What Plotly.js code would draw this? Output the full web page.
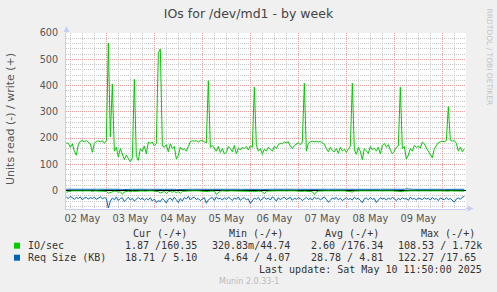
<!DOCTYPE html>
<html><head><meta charset="utf-8">
<script src="https://cdn.plot.ly/plotly-3.0.1.min.js"></script>
<style>html,body{margin:0;padding:0;background:#f0f0f0;} #chart{width:497px;height:292px;}</style>
</head><body><div id="chart"></div>
<script>
// ---- data (hourly samples starting 2025-05-02 04:00) ----
const startTime = Date.UTC(2025, 4, 2, 4, 0, 0);
const stepMs = 3600 * 1000;

const ioWrite = [
 182,180,165,178,150,135,175,188,190,186,190,184,178,146,180,187,189,186,190,180,
 190,562,205,406,150,165,128,160,140,118,135,120,110,125,424,130,115,160,150,170,
 140,185,180,185,170,180,525,539,170,165,175,148,178,160,168,120,135,165,155,160,
 150,168,186,190,188,190,185,190,190,186,182,418,165,172,160,150,168,145,160,140,
 145,168,160,148,172,140,162,155,165,160,168,155,170,165,394,175,150,160,138,158,
 150,165,158,150,168,160,175,180,178,185,182,186,170,160,172,178,182,175,185,409,
 150,180,186,188,186,188,185,188,182,176,160,148,165,152,148,160,142,165,150,158,
 145,160,170,409,155,138,165,150,118,160,150,142,168,155,162,150,165,140,172,180,
 165,175,155,140,150,165,170,394,160,168,120,135,160,150,172,165,168,162,185,178,
 162,150,140,125,160,170,182,186,188,186,190,320,192,188,190,180,150,165,148,160
];
const ioRead = [
 -6,-3,-2,-1,-2,-1,-1,-2,-1,-1,-2,-1,-1,-3,-1,-1,-2,-1,-1,-2,
 -3,-10,-8,-4,-2,-3,-6,-4,-14,-5,-3,-2,-4,-2,-3,-2,-1,-2,-1,-2,
 -1,-2,-1,-1,-2,-3,-4,-9,-5,-3,-11,-4,-3,-6,-3,-8,-4,-10,-3,-2,
 -1,-2,-1,-1,-2,-1,-1,-2,-1,-2,-3,-4,-2,-3,-2,-14,-6,-2,-1,-2,
 -1,-2,-1,-1,-2,-1,-2,-1,-1,-2,-1,-1,-2,-3,-4,-2,-2,-3,-4,-12,
 -3,-2,-1,-2,-1,-1,-2,-1,-1,-2,-1,-1,-2,-1,-1,-2,-1,-2,-3,-2,
 -2,-3,-2,-4,-15,-5,-2,-1,-2,-1,-1,-2,-1,-1,-2,-1,-1,-2,-1,-1,
 -2,-1,-3,-5,-2,-1,-2,-1,-1,-2,-1,-1,-2,-1,-1,-2,-1,-1,-2,-1,
 -1,-2,-1,-1,-2,-1,-3,-5,-4,-2,-1,-2,-1,-1,-2,-1,-1,-2,-1,-1,
 -2,-1,-1,-2,-1,-1,-2,-1,-1,-2,-3,-2,-1,-1,-2,-1,-1,-2,-1,-2
];
const reqWrite = [
 5.2,5.0,4.9,5.1,5.3,5.0,4.8,5.1,5.2,5.0,4.9,5.1,5.0,5.2,4.9,5.0,5.1,5.3,5.0,4.9,
 5.0,3.2,4.1,4.6,5.0,4.8,4.5,5.0,3.8,4.7,5.1,5.0,4.9,5.2,4.8,5.0,5.1,4.9,5.0,5.2,
 5.1,4.9,5.0,5.2,4.8,4.6,4.2,3.5,4.4,4.9,4.1,4.8,5.0,4.6,5.0,4.3,4.8,4.4,5.0,5.1,
 5.0,5.2,4.9,5.0,5.1,5.3,5.0,4.9,5.1,5.0,4.8,4.2,4.9,5.0,4.8,3.9,4.7,5.0,5.1,4.9,
 5.0,5.2,4.9,5.1,5.0,4.8,5.1,5.0,4.9,5.2,5.0,5.1,4.9,4.7,4.3,4.9,5.0,4.8,4.6,4.0,
 4.9,5.1,5.0,5.2,4.9,5.0,5.1,5.3,5.0,4.9,5.1,5.0,5.2,4.9,5.0,5.1,4.9,5.0,4.8,4.4,
 4.8,5.0,4.9,4.6,3.8,4.7,5.0,5.1,5.2,5.0,4.9,5.1,5.0,4.8,5.2,5.0,5.1,4.9,5.0,4.8,
 5.0,4.9,4.7,4.2,4.8,5.0,5.1,4.9,5.0,5.2,5.0,4.9,5.1,5.0,4.8,5.1,5.0,4.9,5.2,5.0,
 5.1,5.0,4.9,5.0,5.2,4.8,4.6,4.3,4.7,5.0,6.8,5.4,5.1,5.0,4.9,5.1,5.0,5.2,4.9,5.0,
 5.1,4.9,5.0,5.2,5.0,4.8,5.1,5.0,4.9,4.7,4.5,4.4,4.9,5.0,5.1,5.0,4.9,5.2,5.0,5.1
];
const reqRead = [
 -25,-30,-22,-28,-33,-26,-30,-24,-35,-28,-26,-32,-27,-30,-25,-33,-29,-24,-31,-27,
 -30,-66,-40,-28,-35,-24,-38,-30,-27,-42,-33,-25,-36,-29,-40,-31,-26,-34,-28,-37,
 -30,-35,-27,-40,-32,-45,-38,-42,-30,-36,-47,-33,-28,-38,-25,-35,-45,-30,-40,-26,
 -32,-22,-36,-28,-25,-34,-30,-38,-33,-27,-48,-35,-30,-26,-38,-24,-32,-29,-36,-27,
 -34,-25,-30,-38,-28,-33,-24,-37,-30,-27,-35,-31,-49,-36,-28,-33,-26,-38,-30,-25,
 -33,-28,-36,-24,-30,-40,-27,-35,-29,-25,-34,-31,-26,-37,-29,-33,-27,-30,-38,-32,
 -26,-34,-29,-36,-25,-31,-28,-35,-30,-24,-33,-44,-37,-28,-32,-26,-35,-29,-38,-31,
 -27,-34,-30,-36,-25,-32,-29,-37,-46,-31,-28,-35,-26,-33,-30,-45,-34,-27,-32,-29,
 -36,-28,-33,-26,-31,-38,-29,-35,-27,-32,-30,-37,-25,-33,-29,-36,-28,-31,-34,-27,
 -32,-29,-36,-26,-33,-30,-38,-28,-31,-35,-27,-34,-30,-36,-44,-32,-28,-33,-25,-22
];

const seriesNames = ['IO/sec', 'Req Size (KB)'];
const statHeaders = ['Cur (-/+)', 'Min (-/+)', 'Avg (-/+)', 'Max (-/+)'];
const statCells = [
  ['1.87 /160.35', '320.83m/44.74', '2.60 /176.34', '108.53 / 1.72k'],
  ['18.71 / 5.10', '4.64 / 4.07', '28.78 / 4.81', '122.27 /17.65']
];
const titleText = 'IOs for /dev/md1 - by week';
const yTitle = 'Units read (-) / write (+)';
const lastUpdate = 'Last update: Sat May 10 11:50:00 2025';
const footer = 'Munin 2.0.33-1';
const sideText = 'RRDTOOL / TOBI OETIKER';

const times = ioWrite.map((_, i) => new Date(startTime + i * stepMs).toISOString().slice(0, 19).replace('T', ' '));

// ---- geometry ----
const W = 497, H = 292, L = 66, R = 31, T = 33, B = 83;
const PW = W - L - R, PH = H - T - B;
const px = x => (x - L) / PW;
const py = y => (H - B - y) / PH;

const GREEN = '#00CC00', BLUE = '#0066B3';
const line = (y, c) => ({x: times, y: y, type: 'scatter', mode: 'lines', line: {color: c, width: 1}, hoverinfo: 'skip', showlegend: false});
const data = [line(ioRead, GREEN), line(ioWrite, GREEN), line(reqRead, BLUE), line(reqWrite, BLUE)];

const mono = {family: 'DejaVu Sans Mono', size: 10, color: '#333'};
const anns = [];
function ann(x, y, text, xanchor, font, extra) {
  anns.push(Object.assign({xref: 'paper', yref: 'paper', x: px(x), y: py(y), text: text, showarrow: false,
    xanchor: xanchor, yanchor: 'middle', borderpad: 0, font: font}, extra || {}));
}
ann(10, 119, yTitle, 'center', {family: 'DejaVu Sans', size: 11, color: '#555'}, {textangle: -90});
ann(489.5, 57, sideText, 'center', {family: 'DejaVu Sans', size: 7.5, color: '#c4c4c4'}, {textangle: 90});
const hdrRight = [187.5, 284, 380, 476];
const cellRight = [197.5, 291, 384, 477.3];
const rowY = [245.7, 257.7];
statHeaders.forEach((h, j) => ann(hdrRight[j], 233.3, h, 'right', mono));
seriesNames.forEach((n, r) => {
  ann(26.5, rowY[r], n, 'left', mono);
  statCells[r].forEach((c, j) => ann(cellRight[j] + (c.endsWith('k') ? 6 : 0), rowY[r], c, 'right', mono));
});
ann(483.3, 269.3, lastUpdate, 'right', mono);
ann(248.5, 281, footer, 'center', {family: 'DejaVu Sans', size: 8, color: '#bbbbbb'});

const AX = '#c6cdf5';
const shapes = [
  {type: 'rect', xref: 'paper', yref: 'paper', x0: px(14), x1: px(20), y0: py(248.7), y1: py(242.7), fillcolor: GREEN, line: {width: 0}},
  {type: 'rect', xref: 'paper', yref: 'paper', x0: px(14), x1: px(20), y0: py(260.7), y1: py(254.7), fillcolor: BLUE, line: {width: 0}},
  {type: 'line', xref: 'paper', yref: 'paper', x0: px(66.5), x1: px(66.5), y0: py(33), y1: py(29), line: {color: AX, width: 1}},
  {type: 'path', xref: 'paper', yref: 'paper', path: `M ${px(66.5)},${py(26)} L ${px(63.5)},${py(32)} L ${px(69.5)},${py(32)} Z`, fillcolor: AX, line: {width: 0}},
  {type: 'line', xref: 'paper', yref: 'paper', x0: px(466), x1: px(470), y0: py(208.5), y1: py(208.5), line: {color: AX, width: 1}},
  {type: 'path', xref: 'paper', yref: 'paper', path: `M ${px(473.5)},${py(208.5)} L ${px(467.5)},${py(205.5)} L ${px(467.5)},${py(211.5)} Z`, fillcolor: AX, line: {width: 0}}
];

const layout = {
  width: W, height: H,
  margin: {l: L, r: R, t: T, b: B, pad: 0},
  paper_bgcolor: '#F0F0F0', plot_bgcolor: '#FFFFFF',
  title: {text: titleText, font: {family: 'DejaVu Sans', size: 12.5, color: '#444'},
    xref: 'container', yref: 'container', x: 0.5, xanchor: 'center', y: 1 - 14 / H, yanchor: 'middle'},
  xaxis: {
    type: 'date', range: ['2025-05-02 03:50', '2025-05-10 11:50'],
    tick0: '2025-05-02', dtick: 86400000, tickformat: '%d %b', ticklabelmode: 'period',
    showgrid: true, gridcolor: '#EE9A9A', griddash: '1px,1px', gridwidth: 1,
    minor: {dtick: 6 * 3600000, tick0: '2025-05-02', showgrid: true, gridcolor: '#C8C8C8', griddash: '1px,1px', gridwidth: 1},
    showline: true, linecolor: AX, linewidth: 1, ticks: '', zeroline: false,
    tickfont: {family: 'DejaVu Sans', size: 9.8, color: '#555'}, fixedrange: true
  },
  yaxis: {
    range: [-70, 600], tick0: 0, dtick: 100,
    showgrid: true, gridcolor: '#EE9A9A', griddash: '1px,1px', gridwidth: 1,
    minor: {dtick: 20, tick0: 0, showgrid: true, gridcolor: '#C8C8C8', griddash: '1px,1px', gridwidth: 1},
    zeroline: true, zerolinecolor: '#000000', zerolinewidth: 1.5,
    showline: true, linecolor: AX, linewidth: 1, ticks: '', ticklabelstandoff: 5,
    tickfont: {family: 'DejaVu Sans', size: 9.6, color: '#555'}, fixedrange: true
  },
  annotations: anns,
  shapes: shapes
};
Plotly.newPlot('chart', data, layout, {staticPlot: true, displayModeBar: false});
</script></body></html>
